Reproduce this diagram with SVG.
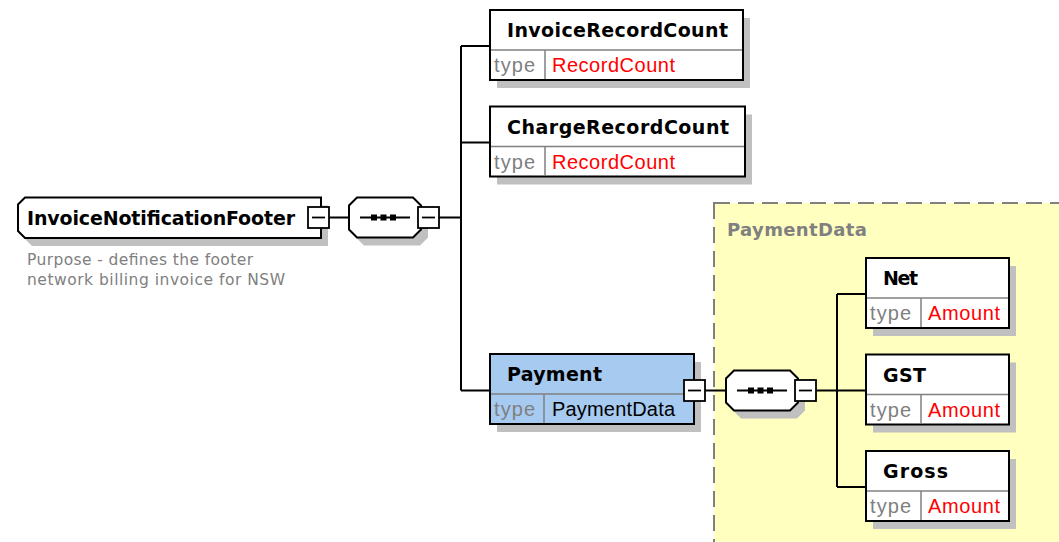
<svg xmlns="http://www.w3.org/2000/svg" width="1059" height="542" viewBox="0 0 1059 542">
  <style>
    .bg { fill: #ffffff; }
    .shadow { fill: #c0c0c0; }
    .box { fill: #ffffff; stroke: #000000; stroke-width: 2; }
    .sel { fill: #a6caf0; }
    .div { stroke: #808080; stroke-width: 1.5; fill: none; }
    .conn { stroke: #000000; stroke-width: 2; fill: none; }
    .minus { fill: #ffffff; stroke: #000000; stroke-width: 1.8; }
    .dash { stroke: #000000; stroke-width: 1.8; }
    .title { font-family: "DejaVu Sans", Verdana, sans-serif; font-weight: bold; font-size: 19px; fill: #000000; }
    .lbl { font-family: "Liberation Sans", Arial, sans-serif; font-size: 20px; }
    .type { fill: #808080; }
    .ref { fill: #ff0000; }
    .plain { fill: #000000; }
    .note { font-family: "DejaVu Sans", Verdana, sans-serif; font-size: 15.5px; fill: #808080; }
    .group { fill: #ffffc0; stroke: #808080; stroke-width: 2; stroke-dasharray: 16 8; }
    .grouplbl { font-family: "DejaVu Sans", Verdana, sans-serif; font-weight: bold; font-size: 18px; fill: #808080; }
  </style>
  <defs>
    <!-- sequence compositor outline -->
    <path id="seqShape" d="M8,0 H64 L72,8 V32 L64,40 H8 L0,32 V8 Z"/>
    <!-- collapse/expand toggle -->
    <g id="toggle">
      <rect class="minus" x="0" y="0" width="21" height="21"/>
      <line class="dash" x1="4" y1="10.5" x2="17" y2="10.5"/>
    </g>
    <!-- full sequence compositor with its three dots -->
    <g id="sequence">
      <use href="#seqShape" class="shadow" x="7" y="8"/>
      <use href="#seqShape" class="box"/>
      <line class="dash" x1="11" y1="20" x2="61" y2="20"/>
      <rect x="22" y="17" width="6" height="6" fill="#000"/>
      <rect x="31.5" y="17" width="6" height="6" fill="#000"/>
      <rect x="41" y="17" width="6" height="6" fill="#000"/>
    </g>
  </defs>

  <rect class="bg" x="0" y="0" width="1059" height="542"/>

  <!-- complex type group -->
  <g id="PaymentData-group">
    <rect class="group" x="714" y="203" width="400" height="400"/>
    <text class="grouplbl" x="727" y="236" textLength="140">PaymentData</text>
  </g>

  <!-- connectors -->
  <g id="connectors">
    <line class="conn" x1="329" y1="217.5" x2="349" y2="217.5"/>
    <line class="conn" x1="439" y1="217.5" x2="461" y2="217.5"/>
    <line class="conn" x1="461" y1="46" x2="461" y2="390.5"/>
    <line class="conn" x1="461" y1="46" x2="490" y2="46"/>
    <line class="conn" x1="461" y1="142.5" x2="490" y2="142.5"/>
    <line class="conn" x1="461" y1="390.5" x2="490" y2="390.5"/>
    <line class="conn" x1="705" y1="390.5" x2="726" y2="390.5"/>
    <line class="conn" x1="816" y1="390.5" x2="837" y2="390.5"/>
    <line class="conn" x1="837" y1="294" x2="837" y2="487"/>
    <line class="conn" x1="837" y1="294" x2="866" y2="294"/>
    <line class="conn" x1="837" y1="390.5" x2="866" y2="390.5"/>
    <line class="conn" x1="837" y1="487" x2="866" y2="487"/>
  </g>

  <!-- root element -->
  <g id="InvoiceNotificationFooter">
    <path class="shadow" d="M32,205.5 H328 V246 H32 L25,239 V212.5 Z"/>
    <path class="box" d="M25,197.5 H321 V238 H25 L18,231 V204.5 Z"/>
    <text class="title" x="27" y="225" textLength="268">InvoiceNotificationFooter</text>
    <use href="#toggle" x="308" y="207"/>
    <text class="note" x="27" y="265" textLength="226">Purpose - defines the footer</text>
    <text class="note" x="27" y="285" textLength="258">network billing invoice for NSW</text>
  </g>

  <!-- root sequence -->
  <g id="root-sequence">
    <use href="#sequence" x="349" y="197.5"/>
    <use href="#toggle" x="418" y="207"/>
  </g>

  <g id="InvoiceRecordCount">
    <rect class="shadow" x="497" y="18" width="253" height="70"/>
    <rect class="box" x="490" y="10" width="253" height="70"/>
    <line class="div" x1="491" y1="50" x2="742" y2="50"/>
    <line class="div" x1="545" y1="50" x2="545" y2="79"/>
    <text class="title" x="507" y="37" textLength="221">InvoiceRecordCount</text>
    <text class="lbl type" x="494" y="72" textLength="41">type</text>
    <text class="lbl ref" x="552" y="72" textLength="123">RecordCount</text>
  </g>

  <g id="ChargeRecordCount">
    <rect class="shadow" x="497" y="114.5" width="255" height="70"/>
    <rect class="box" x="490" y="106.5" width="255" height="70"/>
    <line class="div" x1="491" y1="146.5" x2="744" y2="146.5"/>
    <line class="div" x1="545" y1="146.5" x2="545" y2="175.5"/>
    <text class="title" x="507" y="133.5" textLength="222">ChargeRecordCount</text>
    <text class="lbl type" x="494" y="168.5" textLength="41">type</text>
    <text class="lbl ref" x="552" y="168.5" textLength="123">RecordCount</text>
  </g>

  <g id="Payment">
    <rect class="shadow" x="497" y="362" width="204" height="70"/>
    <rect class="box sel" x="490" y="354" width="204" height="70"/>
    <line class="div" x1="491" y1="394" x2="693" y2="394"/>
    <line class="div" x1="544" y1="394" x2="544" y2="423"/>
    <text class="title" x="507" y="381" textLength="95">Payment</text>
    <text class="lbl type" x="494" y="416" textLength="41">type</text>
    <text class="lbl plain" x="552" y="416" textLength="123">PaymentData</text>
    <use href="#toggle" x="684" y="380"/>
  </g>

  <!-- PaymentData sequence -->
  <g id="payment-sequence">
    <use href="#sequence" x="726" y="370.5"/>
    <use href="#toggle" x="795" y="380"/>
  </g>

  <g id="Net">
    <rect class="shadow" x="873" y="266" width="143" height="70"/>
    <rect class="box" x="866" y="258" width="143" height="70"/>
    <line class="div" x1="867" y1="298" x2="1008" y2="298"/>
    <line class="div" x1="921" y1="298" x2="921" y2="327"/>
    <text class="title" x="883" y="285" textLength="35">Net</text>
    <text class="lbl type" x="870" y="320" textLength="41">type</text>
    <text class="lbl ref" x="928" y="320" textLength="72">Amount</text>
  </g>

  <g id="GST">
    <rect class="shadow" x="873" y="362.5" width="143" height="70"/>
    <rect class="box" x="866" y="354.5" width="143" height="70"/>
    <line class="div" x1="867" y1="394.5" x2="1008" y2="394.5"/>
    <line class="div" x1="921" y1="394.5" x2="921" y2="423.5"/>
    <text class="title" x="883" y="381.5" textLength="43">GST</text>
    <text class="lbl type" x="870" y="416.5" textLength="41">type</text>
    <text class="lbl ref" x="928" y="416.5" textLength="72">Amount</text>
  </g>

  <g id="Gross">
    <rect class="shadow" x="873" y="459" width="143" height="70"/>
    <rect class="box" x="866" y="451" width="143" height="70"/>
    <line class="div" x1="867" y1="491" x2="1008" y2="491"/>
    <line class="div" x1="921" y1="491" x2="921" y2="520"/>
    <text class="title" x="883" y="478" textLength="65">Gross</text>
    <text class="lbl type" x="870" y="513" textLength="41">type</text>
    <text class="lbl ref" x="928" y="513" textLength="72">Amount</text>
  </g>
</svg>
